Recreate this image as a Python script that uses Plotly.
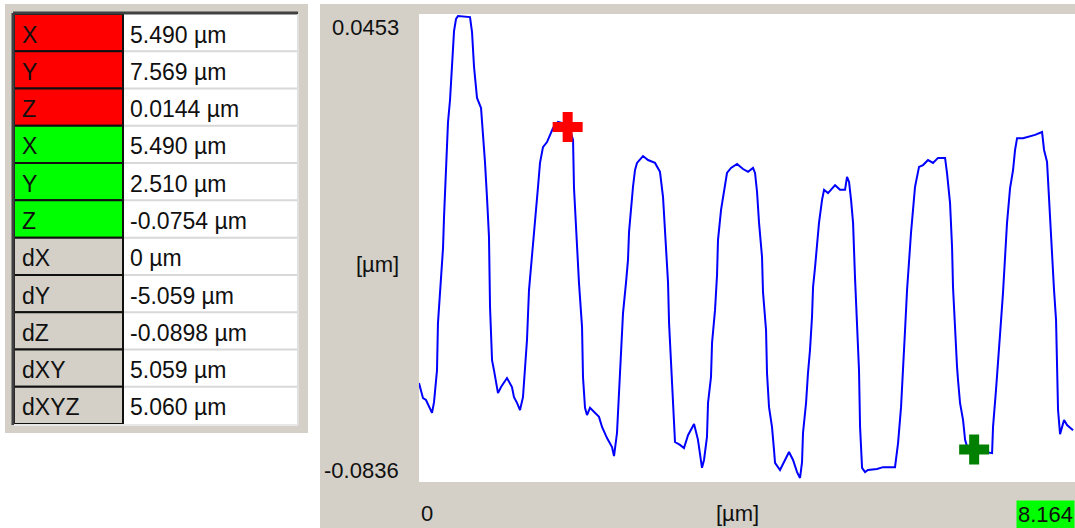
import plotly.graph_objects as go

W, H = 1075, 528
PANEL = "#D4D0C8"
FONT = "Liberation Sans, Arial, sans-serif"

# Cursor readouts (X, Y, Z) for the red and green cursors, and the derived deltas
cursor_red = [5.490, 7.569, 0.0144]
cursor_green = [5.490, 2.510, -0.0754]
deltas = [0, -5.059, -0.0898, 5.059, 5.060]

row_labels = ["X", "Y", "Z", "X", "Y", "Z", "dX", "dY", "dZ", "dXY", "dXYZ"]
row_fmt = ["{:.3f}", "{:.3f}", "{:.4f}", "{:.3f}", "{:.3f}", "{:.4f}",
           "{:g}", "{:.3f}", "{:.4f}", "{:.3f}", "{:.3f}"]
row_colors = ["#FF0000"] * 3 + ["#00FF00"] * 3 + [PANEL] * 5
unit = "µm"

# Height profile along the cut line: distance [µm] and height [µm]
profile_dist = [
    0.000, 0.025, 0.050, 0.087, 0.112, 0.162, 0.187, 0.224, 0.236, 0.274,
    0.299, 0.311, 0.336, 0.361, 0.386, 0.411, 0.436, 0.461, 0.485, 0.635,
    0.660, 0.685, 0.722, 0.772, 0.797, 0.821, 0.846, 0.871, 0.884, 0.909,
    0.933, 0.958, 0.983, 1.021, 1.095, 1.157, 1.182, 1.220, 1.257, 1.294,
    1.319, 1.344, 1.369, 1.406, 1.431, 1.456, 1.481, 1.506, 1.543, 1.593,
    1.630, 1.668, 1.730, 1.830, 1.879, 1.917, 1.929, 1.966, 1.991, 2.029,
    2.041, 2.066, 2.091, 2.128, 2.190, 2.240, 2.278, 2.340, 2.402, 2.427,
    2.464, 2.489, 2.514, 2.539, 2.576, 2.601, 2.614, 2.639, 2.663, 2.688,
    2.713, 2.788, 2.850, 2.937, 2.999, 3.037, 3.062, 3.099, 3.112, 3.136,
    3.161, 3.186, 3.248, 3.298, 3.348, 3.423, 3.472, 3.522, 3.547, 3.584,
    3.597, 3.634, 3.647, 3.684, 3.709, 3.721, 3.759, 3.796, 3.833, 3.883,
    3.958, 4.033, 4.095, 4.157, 4.182, 4.207, 4.232, 4.269, 4.281, 4.319,
    4.331, 4.356, 4.393, 4.418, 4.431, 4.493, 4.555, 4.605, 4.655, 4.705,
    4.742, 4.767, 4.779, 4.817, 4.841, 4.866, 4.891, 4.904, 4.929, 4.954,
    4.978, 5.016, 5.041, 5.090, 5.178, 5.240, 5.302, 5.327, 5.352, 5.377,
    5.402, 5.426, 5.451, 5.476, 5.489, 5.514, 5.551, 5.588, 5.700, 5.775,
    5.924, 5.962, 5.999, 6.024, 6.049, 6.074, 6.099, 6.123, 6.148, 6.173,
    6.198, 6.223, 6.273, 6.335, 6.397, 6.459, 6.547, 6.571, 6.609, 6.634,
    6.646, 6.671, 6.696, 6.708, 6.733, 6.771, 6.796, 6.833, 6.982, 7.132,
    7.144, 7.181, 7.206, 7.244, 7.268, 7.293, 7.318, 7.356, 7.393, 7.418,
    7.443, 7.517, 7.667, 7.754, 7.779, 7.816, 7.841, 7.878, 7.903, 7.928,
    7.941, 7.953, 7.978, 8.028, 8.065, 8.102, 8.140,
]
profile_z = [
    -0.0569, -0.0588, -0.0611, -0.0616, -0.0627, -0.0652, -0.0622, -0.0533, -0.0402, -0.0290,
    -0.0193, -0.0109, 0.0030, 0.0158, 0.0219, 0.0322, 0.0411, 0.0445, 0.0453, 0.0450,
    0.0408, 0.0311, 0.0225, 0.0197, 0.0127, 0.0047, -0.0051, -0.0162, -0.0357, -0.0505,
    -0.0533, -0.0560, -0.0597, -0.0580, -0.0555, -0.0580, -0.0608, -0.0624, -0.0644, -0.0608,
    -0.0533, -0.0449, -0.0310, -0.0207, -0.0143, -0.0082, -0.0023, 0.0044, 0.0088, 0.0102,
    0.0122, 0.0141, 0.0158, 0.0152, 0.0136, 0.0108, -0.0026, -0.0190, -0.0290, -0.0413,
    -0.0552, -0.0638, -0.0658, -0.0638, -0.0652, -0.0663, -0.0691, -0.0722, -0.0747, -0.0772,
    -0.0708, -0.0608, -0.0477, -0.0374, -0.0290, -0.0226, -0.0148, -0.0079, -0.0023, 0.0024,
    0.0044, 0.0063, 0.0052, 0.0044, 0.0019, -0.0051, -0.0162, -0.0288, -0.0402, -0.0524,
    -0.0652, -0.0733, -0.0741, -0.0750, -0.0714, -0.0683, -0.0727, -0.0805, -0.0783, -0.0719,
    -0.0624, -0.0552, -0.0457, -0.0366, -0.0268, -0.0171, -0.0087, -0.0031, 0.0016, 0.0030,
    0.0041, 0.0027, 0.0019, 0.0030, 0.0016, -0.0037, -0.0123, -0.0218, -0.0315, -0.0421,
    -0.0541, -0.0636, -0.0691, -0.0755, -0.0791, -0.0811, -0.0783, -0.0761, -0.0783, -0.0817,
    -0.0833, -0.0789, -0.0708, -0.0624, -0.0541, -0.0477, -0.0385, -0.0302, -0.0246, -0.0179,
    -0.0123, -0.0059, -0.0031, -0.0040, -0.0018, -0.0031, -0.0031, 0.0005, -0.0009, -0.0059,
    -0.0123, -0.0274, -0.0430, -0.0533, -0.0691, -0.0805, -0.0817, -0.0811, -0.0808, -0.0803,
    -0.0803, -0.0736, -0.0636, -0.0541, -0.0421, -0.0310, -0.0218, -0.0151, -0.0087, -0.0023,
    0.0005, 0.0033, 0.0038, 0.0052, 0.0044, 0.0058, 0.0058, 0.0016, -0.0068, -0.0190,
    -0.0302, -0.0430, -0.0524, -0.0560, -0.0624, -0.0672, -0.0727, -0.0755, -0.0758, -0.0764,
    -0.0691, -0.0588, -0.0499, -0.0393, -0.0318, -0.0218, -0.0123, -0.0026, 0.0024, 0.0080,
    0.0113, 0.0113, 0.0122, 0.0130, 0.0080, 0.0047, -0.0068, -0.0207, -0.0310, -0.0393,
    -0.0524, -0.0644, -0.0711, -0.0672, -0.0686, -0.0694, -0.0700,
]

profile_length = 8.164
z_top, z_bottom = 0.0453, -0.0836
red_dist = 1.85
cursor_dist = [red_dist, red_dist + abs(deltas[1])]


def fx(px):
    return px / W


def fy(py):
    return 1 - py / H


def rect(x0, y0, x1, y1, fill=None, line_color=None, line_width=0):
    return dict(type="rect", xref="paper", yref="paper", layer="below",
                x0=fx(x0), y0=fy(y1), x1=fx(x1), y1=fy(y0),
                fillcolor=fill or "rgba(0,0,0,0)",
                line=dict(color=line_color or "rgba(0,0,0,0)", width=line_width))


def hline(x0, x1, y, color, width):
    return dict(type="line", xref="paper", yref="paper", layer="below",
                x0=fx(x0), x1=fx(x1), y0=fy(y), y1=fy(y),
                line=dict(color=color, width=width))


def vline(x, y0, y1, color, width):
    return dict(type="line", xref="paper", yref="paper", layer="below",
                x0=fx(x), x1=fx(x), y0=fy(y0), y1=fy(y1),
                line=dict(color=color, width=width))


shapes = []
annotations = []

# Window panels
shapes.append(rect(5, 4, 308, 433, fill=PANEL))
shapes.append(rect(320, 4, W, H, fill=PANEL))
# Plot area
PX0, PX1, PY0, PY1 = 419, W, 14, 482
shapes.append(rect(PX0, PY0, PX1, PY1, fill="white"))

# Readout table
TX0, TXM, TX1 = 14, 123, 297
TY0, TY1 = 14, 424
rh = (TY1 - TY0) / len(row_labels)
shapes.append(rect(TXM, TY0, TX1, TY1, fill="white"))

values = [cursor_red[0], cursor_red[1], cursor_red[2],
          cursor_green[0], cursor_green[1], cursor_green[2]] + deltas
for i, (lab, fmt, col, val) in enumerate(zip(row_labels, row_fmt, row_colors, values)):
    y0 = TY0 + i * rh
    y1 = y0 + rh
    shapes.append(rect(TX0, y0, TXM, y1, fill=col, line_color="#101010", line_width=2))
    if i > 0:
        shapes.append(hline(TXM + 1, TX1, y0, "#D8D8D8", 2))
    annotations.append(dict(x=fx(TX0 + 6), y=fy(y0 + rh / 2 + 2), xref="paper", yref="paper",
                            text=lab, showarrow=False, xanchor="left", yanchor="middle",
                            font=dict(family=FONT, size=23, color="#101010")))
    annotations.append(dict(x=fx(TXM + 5), y=fy(y0 + rh / 2 + 2), xref="paper", yref="paper",
                            text=f"{fmt.format(val)} {unit}", showarrow=False,
                            xanchor="left", yanchor="middle",
                            font=dict(family=FONT, size=23, color="#101010")))

# sunken frame around the table
shapes.append(hline(TX0 - 1, TX1 + 1, TY0 - 1, "#404040", 3))
shapes.append(vline(TX0 - 1, TY0 - 1, TY1 + 1, "#404040", 3))
shapes.append(hline(TX0, TX1 + 1, TY1 + 1, "#E8E8E8", 2))
shapes.append(vline(TX1 + 1, TY0, TY1 + 1, "#E0E0E0", 2))

# Axis labels
axis_font = dict(family=FONT, size=22, color="#101010")
annotations += [
    dict(x=fx(401), y=fy(27), text=f"{z_top:.4f}", xanchor="right"),
    dict(x=fx(401), y=fy(470), text=f"{z_bottom:.4f}", xanchor="right"),
    dict(x=fx(401), y=fy(264), text=f"[{unit}]", xanchor="right"),
    dict(x=fx(419), y=fy(513), text="0", xanchor="left"),
    dict(x=fx(737), y=fy(513), text=f"[{unit}]", xanchor="center"),
]
for a in annotations[-5:]:
    a.update(xref="paper", yref="paper", showarrow=False, yanchor="middle", font=axis_font)
annotations.append(dict(x=1.0, y=fy(514), xref="paper", yref="paper", text=f"{profile_length:.3f}",
                        showarrow=False, xanchor="right", yanchor="middle",
                        bgcolor="#00FF00", borderpad=1, font=axis_font))

fig = go.Figure()
fig.add_trace(go.Scatter(x=profile_dist, y=profile_z, mode="lines",
                         line=dict(color="#0000FF", width=2), hoverinfo="skip",
                         showlegend=False))
fig.add_trace(go.Scatter(x=cursor_dist, y=[cursor_red[2], cursor_green[2]], mode="markers",
                         marker=dict(symbol="cross", size=25, color=["#FF0000", "#008000"],
                                     line=dict(width=0)),
                         cliponaxis=False, hoverinfo="skip", showlegend=False))

px_per_z = (479 - 16) / (z_top - z_bottom)
fig.update_layout(
    width=W, height=H, autosize=False,
    margin=dict(l=0, r=0, t=0, b=0, pad=0),
    paper_bgcolor="white", plot_bgcolor="rgba(0,0,0,0)",
    shapes=shapes, annotations=annotations,
    xaxis=dict(domain=[fx(PX0), fx(PX1)], range=[0, profile_length], visible=False,
               fixedrange=True),
    yaxis=dict(domain=[fy(PY1), fy(PY0)],
               range=[z_bottom - 3 / px_per_z, z_top + 2 / px_per_z], visible=False,
               fixedrange=True),
)

fig.write_html("out.html", config={"displayModeBar": False})
